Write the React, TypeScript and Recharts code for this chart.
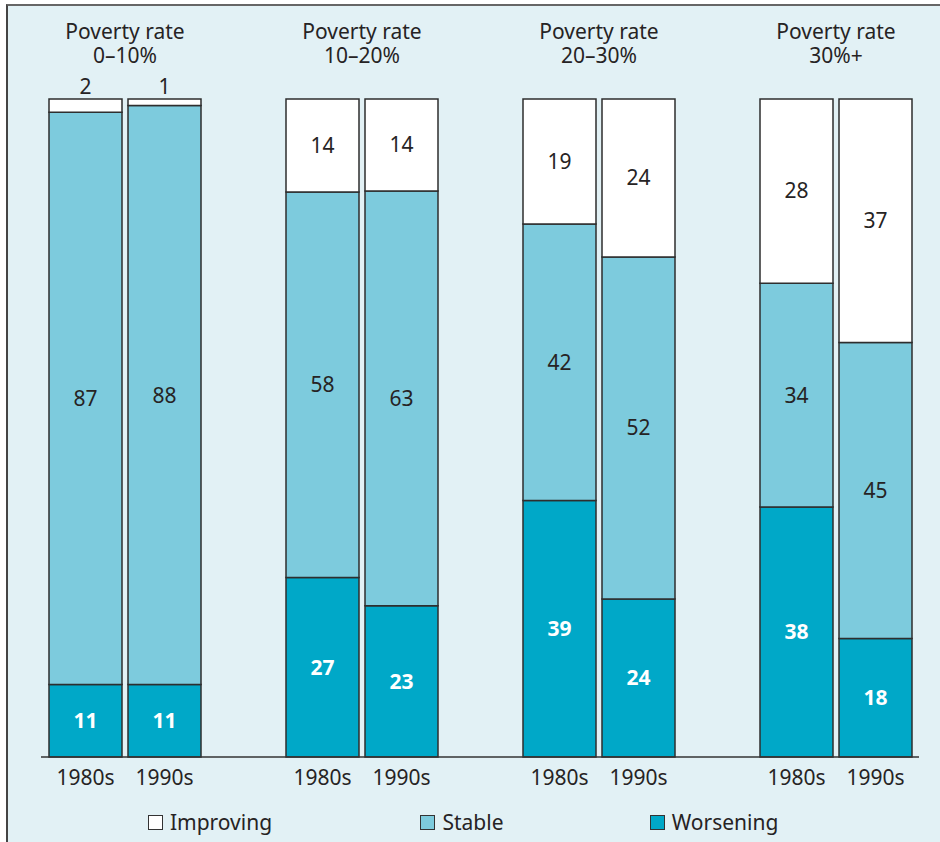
import React from 'react';
import { BarChart, Bar, XAxis, YAxis, LabelList } from 'recharts';

// Share of countries by poverty trend, per poverty-rate band and decade
const GROUPS = ['0–10%', '10–20%', '20–30%', '30%+'];
const PERIODS = ['1980s', '1990s'];

// one value per bar: band order, 1980s then 1990s
const WORSENING = [11, 11, 27, 23, 39, 24, 38, 18];
const STABLE = [87, 88, 58, 63, 42, 52, 34, 45];
const IMPROVING = [2, 1, 14, 14, 19, 24, 28, 37];

const COLORS = {
  improving: '#ffffff',
  stable: '#7dcbdd',
  worsening: '#00a8c8',
};
const BG = '#e2f1f5';
const INK = '#262324';
const FONT = '"Noto Sans", "Liberation Sans", Arial, sans-serif';
const FS = 21;

const WIDTH = 940;
const HEIGHT = 842;
const TITLE_H = 60;
const MARGIN = { top: 99 - TITLE_H, right: 21, bottom: 55, left: 41 };
const PAD = { left: 5, right: 4 };
// bars + one empty slot between bands
const SLOTS = GROUPS.length * (PERIODS.length + 1) - 1;
const BAND = (WIDTH - MARGIN.left - MARGIN.right - PAD.left - PAD.right) / SLOTS;

type Row = {
  key: string;
  period: string;
  group: string;
  first: boolean;
  worsening: number | null;
  stable: number | null;
  improving: number | null;
};

const rows: Row[] = [];
GROUPS.forEach((group, g) => {
  if (g > 0) {
    rows.push({ key: `gap-${g}`, period: '', group: '', first: false, worsening: null, stable: null, improving: null });
  }
  PERIODS.forEach((period, p) => {
    const i = g * PERIODS.length + p;
    rows.push({
      key: `${group}-${period}`,
      period,
      group,
      first: p === 0,
      worsening: WORSENING[i],
      stable: STABLE[i],
      improving: IMPROVING[i],
    });
  });
});

const BottomTick = (props: any) => {
  const { x, y, payload } = props;
  const row = rows[payload.index];
  if (!row || !row.period) return null;
  return (
    <text x={x} y={y + 20} textAnchor="middle" fontSize={FS} fill={INK} fontFamily={FONT}>
      {row.period}
    </text>
  );
};

// band title sits centred over each pair of bars
const TopTick = (props: any) => {
  const { x, payload } = props;
  const row = rows[payload.index];
  if (!row || !row.first) return null;
  const cx = x + BAND / 2;
  return (
    <text x={cx} y={39} fontFamily={FONT} fontSize={FS} fill={INK} textAnchor="middle">
      <tspan x={cx}>Poverty rate</tspan>
      <tspan x={cx} dy={24}>{row.group}</tspan>
    </text>
  );
};

const ImprovingLabel = (props: any) => {
  const { x, y, width, height, value } = props;
  if (value == null) return null;
  const cx = x + width / 2;
  // thin segments get their number above the bar
  const small = height < 30;
  return (
    <text
      x={cx}
      y={small ? y - 5 : y + height / 2 + 7}
      textAnchor="middle"
      fontSize={FS}
      fill={INK}
      fontFamily={FONT}
    >
      {value}
    </text>
  );
};

const LegendItem = ({ color, label }: { color: string; label: string }) => (
  <div style={{ width: 252, display: 'flex', justifyContent: 'center', alignItems: 'center' }}>
    <span
      style={{
        display: 'inline-block',
        width: 13,
        height: 13,
        background: color,
        border: '1px solid #333',
        marginRight: 7,
      }}
    />
    <span style={{ fontSize: FS, color: INK, fontFamily: FONT }}>{label}</span>
  </div>
);

export default function App() {
  const barStroke = { stroke: '#2e2e2e', strokeWidth: 1.5 };
  return (
    <div style={{ position: 'absolute', left: 0, top: 0, width: WIDTH, height: HEIGHT, background: '#fff', overflow: 'hidden' }}>
      <div
        style={{
          position: 'absolute',
          left: 6,
          top: 4,
          width: WIDTH,
          height: HEIGHT,
          background: BG,
          borderLeft: '2px solid #444',
          borderTop: '2px solid #666',
        }}
      />
      <div style={{ position: 'absolute', left: 0, top: 0 }}>
        <BarChart
          width={WIDTH}
          height={HEIGHT}
          data={rows}
          margin={MARGIN}
          stackOffset="expand"
          barCategoryGap={3}
        >
          <XAxis
            dataKey="key"
            interval={0}
            height={30}
            padding={PAD}
            tickLine={false}
            axisLine={{ stroke: '#333', strokeWidth: 1.5 }}
            tick={<BottomTick />}
          />
          <XAxis
            xAxisId="top"
            orientation="top"
            dataKey="key"
            interval={0}
            height={TITLE_H}
            padding={PAD}
            tickLine={false}
            axisLine={false}
            tick={<TopTick />}
          />
          <YAxis hide domain={[0, 1]} />
          <Bar dataKey="worsening" stackId="a" fill={COLORS.worsening} {...barStroke} isAnimationActive={false}>
            <LabelList
              dataKey="worsening"
              position="center"
              fill="#fff"
              fontSize={FS}
              fontWeight={700}
              fontFamily={FONT}
            />
          </Bar>
          <Bar dataKey="stable" stackId="a" fill={COLORS.stable} {...barStroke} isAnimationActive={false}>
            <LabelList dataKey="stable" position="center" fill={INK} fontSize={FS} fontFamily={FONT} />
          </Bar>
          <Bar dataKey="improving" stackId="a" fill={COLORS.improving} {...barStroke} isAnimationActive={false}>
            <LabelList dataKey="improving" content={<ImprovingLabel />} />
          </Bar>
        </BarChart>
      </div>
      <div style={{ position: 'absolute', left: 84, top: 808, display: 'flex' }}>
        <LegendItem color={COLORS.improving} label="Improving" />
        <LegendItem color={COLORS.stable} label="Stable" />
        <LegendItem color={COLORS.worsening} label="Worsening" />
      </div>
    </div>
  );
}
